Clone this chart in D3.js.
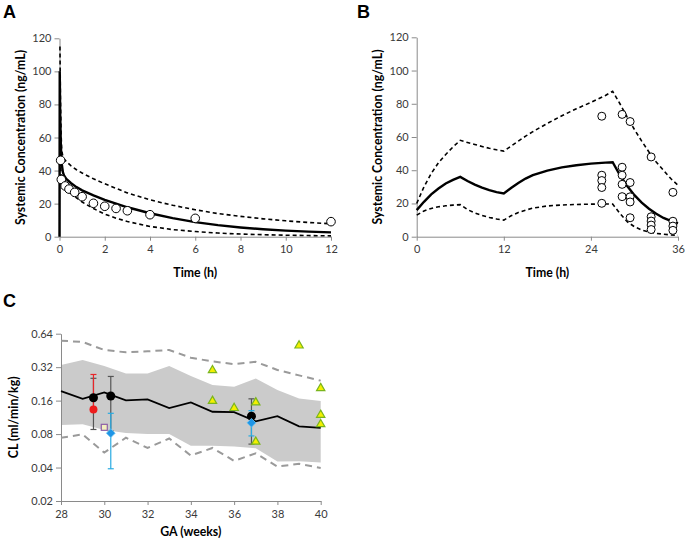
<!DOCTYPE html>
<meta charset="utf-8">
<script src="https://d3js.org/d3.v7.min.js"></script>
<style>
  body { margin: 0; background: #fff; }
  text { font-family: Lato, "Open Sans", sans-serif; }
</style>
<div id="main"></div>
<script>

// ---- panel A: single dose, concentration vs time (h)
var aMeanT  = [0, 0.01, 0.03, 0.06, 0.1, 0.15, 0.2, 0.3, 0.5, 0.75, 1, 1.5, 2, 2.5, 3, 4, 5, 6, 7, 8, 9, 10, 11, 12]
var aMeanC  = [0, 100, 75, 55, 44, 39, 37, 35, 32.5, 30, 28, 25, 22.3, 20, 17.8, 14.2, 11.2, 8.8, 7, 5.6, 4.5, 3.7, 3.1, 2.6]
var aHiT    = [0.02, 0.04, 0.07, 0.1, 0.15, 0.2, 0.3, 0.5, 0.75, 1, 1.5, 2, 3, 4, 5, 6, 7, 8, 9, 10, 11, 12]
var aHiC    = [115, 85, 62, 52, 48.5, 47, 45.5, 43, 40.5, 38.5, 35, 32, 26.5, 22.3, 19, 16.3, 14, 12.3, 10.8, 9.6, 8.6, 7.8]
var aLoT    = [0.05, 0.1, 0.2, 0.3, 0.5, 0.75, 1, 1.5, 2, 2.5, 3, 4, 5, 6, 7, 8, 9, 10, 11, 12]
var aLoC    = [42, 34, 31, 29.5, 26.5, 23.5, 21, 17, 13.7, 11.2, 9.2, 6.2, 4.3, 3.1, 2.2, 1.6, 1.2, 0.9, 0.7, 0.5]
var aObsT   = [0.05, 0.08, 0.25, 0.42, 0.67, 1, 1.5, 2, 2.5, 3, 4, 6, 12]
var aObsC   = [46.2, 34.6, 30.7, 28.8, 26.8, 24.2, 20.2, 18.4, 17.1, 15.7, 13.3, 11.1, 9.1]

// ---- panel B: repeated dosing, concentration vs time (h)
var bT      = [0, 1, 2, 3, 4, 5, 6, 7, 8, 9, 10, 11, 12, 13, 14, 15, 16, 18, 20, 22, 24, 26, 27, 28, 29, 30, 31, 32, 33, 34, 35, 36]
var bMean   = [16, 21, 25.5, 29, 32, 34.2, 36, 33.5, 31.3, 29.5, 28, 26.8, 26, 29.3, 32.3, 35, 37, 39.8, 41.7, 43, 44, 44.6, 44.8, 37, 30.5, 25, 20.5, 16.8, 13.8, 11.3, 9.5, 8]
var bHi     = [20, 30, 38, 44.5, 49.5, 54, 58, 56.7, 55.5, 54.3, 53.2, 52.3, 51.5, 54.5, 57.5, 60.5, 63.2, 68.2, 72.8, 77, 80.8, 85, 87.5, 80, 72, 64.5, 57.5, 51, 45, 40, 35, 31]
var bLo     = [13, 15.5, 17, 18, 18.6, 19, 19.3, 16.3, 14.3, 12.8, 11.6, 10.7, 10, 12.6, 14.6, 16, 17.2, 18.5, 19.1, 19.4, 19.6, 19.7, 19.6, 14, 9, 6, 4, 2.8, 2, 1.5, 1.1, 0.8]
var bObsT   = [25.5, 25.5, 25.5, 25.5, 25.5, 28.3, 28.3, 28.3, 28.3, 28.3, 29.4, 29.4, 29.4, 29.4, 29.4, 32.3, 32.3, 32.3, 32.3, 32.3, 35.3, 35.3, 35.3, 35.3]
var bObsC   = [72.5, 37, 33.8, 29.6, 20.1, 73.6, 41.8, 37, 31.5, 24.1, 69.3, 32.6, 24, 20.9, 11.4, 48, 12, 9.4, 7, 4.3, 26.7, 9.3, 6.4, 3.8]

// ---- panel C: clearance vs gestational age
var cGA     = [28, 29, 30, 31, 32, 33, 34, 35, 36, 37, 38, 39, 40]
var cMedian = [0.195, 0.166, 0.19, 0.161, 0.164, 0.137, 0.154, 0.127, 0.126, 0.104, 0.116, 0.094, 0.091]
var cBandHi = [0.335, 0.371, 0.327, 0.281, 0.28, 0.327, 0.266, 0.221, 0.213, 0.253, 0.199, 0.167, 0.159]
var cBandLo = [0.0966, 0.098, 0.0869, 0.082, 0.08, 0.08, 0.0627, 0.0627, 0.062, 0.0598, 0.0453, 0.0455, 0.0444]
var cOutHi  = [0.554, 0.539, 0.457, 0.435, 0.444, 0.457, 0.389, 0.36, 0.341, 0.357, 0.302, 0.27, 0.242]
var cOutLo  = [0.0742, 0.0795, 0.0545, 0.0742, 0.06, 0.073, 0.0513, 0.06, 0.0459, 0.0537, 0.0408, 0.0432, 0.0397]
// observed studies
var blackGA = [29.5, 30.3, 36.8], blackCL = [0.17, 0.176, 0.116], blackHi = [0.254, 0.264, 0.166], blackLo = [0.088, 0.085, 0.065]
var redGA = [29.5], redCL = [0.133], redHi = [0.275]
var blueGA = [30.3, 36.8], blueCL = [0.0815, 0.101], blueHi = [0.123, 0.13], blueLo = [0.039, 0.077]
var sqGA = [30], sqCL = [0.092]
var triGA = [35, 35, 36, 37, 37, 39, 40, 40, 40]
var triCL = [0.30, 0.159, 0.137, 0.154, 0.0682, 0.50, 0.207, 0.119, 0.0981]

var svg = d3.select("#main").append("svg")
  .attr("width", 685)
  .attr("height", 540)

function zip(a, b) { return a.map((v, i) => [v, b[i]]) }

function axes(x, y, xTicks, yTicks, yFmt, xTitle, yTitle, yTitleX, xTitleY) {
  var g = svg.append("g")
  g.append("g").attr("transform", "translate(0," + y.range()[0] + ")")
    .call(d3.axisBottom(x).tickValues(xTicks).tickSize(4).tickSizeOuter(0).tickPadding(5))
  g.append("g").attr("transform", "translate(" + x.range()[0] + ",0)")
    .call(d3.axisLeft(y).tickValues(yTicks).tickFormat(yFmt).tickSize(5).tickSizeOuter(0).tickPadding(3))
  g.selectAll(".domain").attr("stroke", "#8a8a8a")
  g.selectAll(".tick line").attr("stroke", "#8a8a8a")
  g.selectAll(".tick text").attr("fill", "#3a3a3a").style("font-size", "11px").style("font-family", "Lato, sans-serif")
  var cx = (x.range()[0] + x.range()[1]) / 2
  g.append("text").attr("x", cx).attr("y", xTitleY).attr("text-anchor", "middle")
    .style("font-size", "12.3px").style("font-weight", "bold").text(xTitle)
  var cy = (y.range()[0] + y.range()[1]) / 2
  g.append("text").attr("transform", "translate(" + yTitleX + "," + cy + ") rotate(-90)")
    .attr("text-anchor", "middle").style("font-size", "12.3px").style("font-weight", "bold").text(yTitle)
}

function panelLabel(s, x, y) {
  svg.append("text").attr("x", x).attr("y", y).style("font-size", "18px")
    .style("font-weight", "bold").style("font-family", "Arial, 'Liberation Sans', sans-serif").text(s)
}

// ===== A =====
var xA = d3.scaleLinear().domain([0, 12]).range([59.5, 331])
var yA = d3.scaleLinear().domain([0, 120]).range([236.7, 38.3])
axes(xA, yA, d3.range(0, 13, 2), d3.range(0, 121, 20), d3.format("d"),
  "Time (h)", "Systemic Concentration (ng/mL)", 25, 277)
var lineA = d3.line().x(d => xA(d[0])).y(d => yA(d[1]))
svg.append("path").attr("d", lineA(zip(aHiT, aHiC))).attr("fill", "none")
  .attr("stroke", "#000").attr("stroke-width", 1.6).attr("stroke-dasharray", "4,3")
svg.append("path").attr("d", lineA(zip(aLoT, aLoC))).attr("fill", "none")
  .attr("stroke", "#000").attr("stroke-width", 1.6).attr("stroke-dasharray", "4,3")
svg.append("path").attr("d", lineA(zip(aMeanT, aMeanC))).attr("fill", "none")
  .attr("stroke", "#000").attr("stroke-width", 2.4)
svg.append("g").selectAll("circle").data(zip(aObsT, aObsC)).enter().append("circle")
  .attr("cx", d => xA(d[0])).attr("cy", d => yA(d[1])).attr("r", 4.3)
  .attr("fill", "#fff").attr("stroke", "#000").attr("stroke-width", 1)
panelLabel("A", 3, 18)

// ===== B =====
var xB = d3.scaleLinear().domain([0, 36]).range([416.7, 678])
var yB = d3.scaleLinear().domain([0, 120]).range([236.7, 37.3])
axes(xB, yB, [0, 12, 24, 36], d3.range(0, 121, 20), d3.format("d"),
  "Time (h)", "Systemic Concentration (ng/mL)", 382, 277)
var lineB = d3.line().x(d => xB(d[0])).y(d => yB(d[1]))
svg.append("path").attr("d", lineB(zip(bT, bHi))).attr("fill", "none")
  .attr("stroke", "#000").attr("stroke-width", 1.6).attr("stroke-dasharray", "4,3")
svg.append("path").attr("d", lineB(zip(bT, bLo))).attr("fill", "none")
  .attr("stroke", "#000").attr("stroke-width", 1.6).attr("stroke-dasharray", "4,3")
svg.append("path").attr("d", lineB(zip(bT, bMean))).attr("fill", "none")
  .attr("stroke", "#000").attr("stroke-width", 2.4)
svg.append("g").selectAll("circle").data(zip(bObsT, bObsC)).enter().append("circle")
  .attr("cx", d => xB(d[0])).attr("cy", d => yB(d[1])).attr("r", 4)
  .attr("fill", "#fff").attr("stroke", "#000").attr("stroke-width", 1)
panelLabel("B", 357, 18)

// ===== C =====
var xC = d3.scaleLinear().domain([28, 40]).range([61, 320.7])
var yC = d3.scaleLog().base(2).domain([0.02, 0.64]).range([501, 333.7])
var band = d3.area().x((d, i) => xC(cGA[i])).y0((d, i) => yC(cBandLo[i])).y1((d, i) => yC(cBandHi[i]))
svg.append("path").attr("d", band(cGA)).attr("fill", "#cbcbcb")
axes(xC, yC, d3.range(28, 41, 2), [0.02, 0.04, 0.08, 0.16, 0.32, 0.64], d3.format(".2f"),
  "GA (weeks)", "CL (ml/min/kg)", 18, 536)
var lineC = d3.line().x(d => xC(d[0])).y(d => yC(d[1]))
svg.append("path").attr("d", lineC(zip(cGA, cOutHi))).attr("fill", "none")
  .attr("stroke", "#9a9a9a").attr("stroke-width", 2).attr("stroke-dasharray", "7,5")
svg.append("path").attr("d", lineC(zip(cGA, cOutLo))).attr("fill", "none")
  .attr("stroke", "#9a9a9a").attr("stroke-width", 2).attr("stroke-dasharray", "7,5")
svg.append("path").attr("d", lineC(zip(cGA, cMedian))).attr("fill", "none")
  .attr("stroke", "#000").attr("stroke-width", 1.8)

function errBar(ga, lo, hi, color) {
  var g = svg.append("g").attr("stroke", color).attr("stroke-width", 1.2)
  g.append("line").attr("x1", xC(ga)).attr("x2", xC(ga)).attr("y1", yC(lo)).attr("y2", yC(hi))
  ;[lo, hi].forEach(v => g.append("line").attr("x1", xC(ga) - 3).attr("x2", xC(ga) + 3)
    .attr("y1", yC(v)).attr("y2", yC(v)))
}
blackGA.forEach((v, i) => errBar(v, blackLo[i], blackHi[i], "#555"))
redGA.forEach((v, i) => errBar(v, redCL[i], redHi[i], "#e8262a"))
blueGA.forEach((v, i) => errBar(v, blueLo[i], blueHi[i], "#29abe2"))

svg.append("g").selectAll("circle").data(zip(blackGA, blackCL)).enter().append("circle")
  .attr("cx", d => xC(d[0])).attr("cy", d => yC(d[1])).attr("r", 4.5).attr("fill", "#000")
svg.append("g").selectAll("circle").data(zip(redGA, redCL)).enter().append("circle")
  .attr("cx", d => xC(d[0])).attr("cy", d => yC(d[1])).attr("r", 4).attr("fill", "#ee1c1c")
svg.append("g").selectAll("path").data(zip(blueGA, blueCL)).enter().append("path")
  .attr("d", d3.symbol().type(d3.symbolDiamond2).size(50))
  .attr("transform", d => "translate(" + xC(d[0]) + "," + yC(d[1]) + ")")
  .attr("fill", "#1f95e6").attr("stroke", "#6cc6f2").attr("stroke-width", 0.8)
svg.append("g").selectAll("rect").data(zip(sqGA, sqCL)).enter().append("rect")
  .attr("x", d => xC(d[0]) - 3).attr("y", d => yC(d[1]) - 3).attr("width", 6).attr("height", 6)
  .attr("fill", "#f3eec0").attr("stroke", "#8d5fa8").attr("stroke-width", 1.2)
svg.append("g").selectAll("path").data(zip(triGA, triCL)).enter().append("path")
  .attr("d", d3.symbol().type(d3.symbolTriangle).size(30))
  .attr("transform", d => "translate(" + xC(d[0]) + "," + yC(d[1]) + ")")
  .attr("fill", "#f4f000").attr("stroke", "#7ab51d").attr("stroke-width", 1.2)
panelLabel("C", 3, 307)

</script>
